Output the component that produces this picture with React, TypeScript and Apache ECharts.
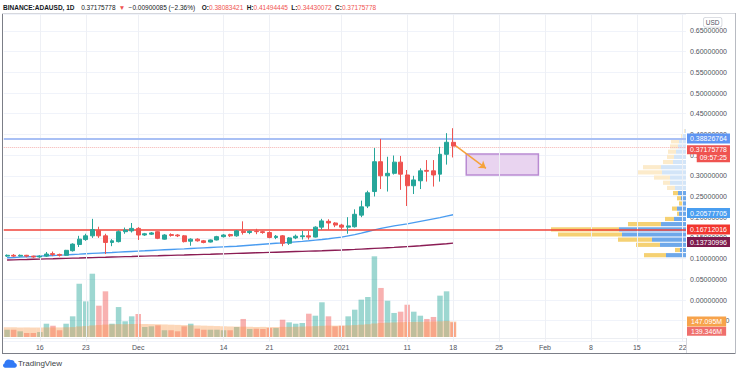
import React, { useEffect, useRef } from "react";
import * as echarts from "echarts";

// ---------- DATA ----------
const startDate = "2020-11-11";
const categoryCount = 104; // Nov 11 2020 .. Feb 22 2021

// [open, close, low, high]
const ohlc: number[][] = [
  [0.106, 0.108, 0.104, 0.110],
  [0.108, 0.106, 0.104, 0.111],
  [0.106, 0.108, 0.105, 0.110],
  [0.108, 0.106, 0.103, 0.109],
  [0.106, 0.104, 0.102, 0.107],
  [0.104, 0.106, 0.102, 0.108],
  [0.106, 0.111, 0.104, 0.116],
  [0.112, 0.110, 0.106, 0.117],
  [0.110, 0.108, 0.105, 0.112],
  [0.108, 0.120, 0.107, 0.121],
  [0.119, 0.135, 0.117, 0.137],
  [0.134, 0.147, 0.128, 0.155],
  [0.146, 0.155, 0.143, 0.160],
  [0.155, 0.170, 0.150, 0.196],
  [0.168, 0.155, 0.150, 0.177],
  [0.155, 0.139, 0.111, 0.160],
  [0.139, 0.143, 0.130, 0.147],
  [0.141, 0.165, 0.139, 0.168],
  [0.165, 0.169, 0.160, 0.175],
  [0.167, 0.173, 0.163, 0.186],
  [0.173, 0.157, 0.145, 0.176],
  [0.157, 0.160, 0.155, 0.162],
  [0.159, 0.162, 0.157, 0.164],
  [0.165, 0.149, 0.147, 0.166],
  [0.147, 0.157, 0.146, 0.159],
  [0.158, 0.156, 0.153, 0.161],
  [0.157, 0.155, 0.152, 0.159],
  [0.155, 0.141, 0.139, 0.157],
  [0.142, 0.147, 0.131, 0.149],
  [0.147, 0.143, 0.141, 0.149],
  [0.143, 0.139, 0.137, 0.145],
  [0.140, 0.145, 0.139, 0.146],
  [0.145, 0.153, 0.144, 0.155],
  [0.153, 0.157, 0.151, 0.159],
  [0.158, 0.155, 0.152, 0.160],
  [0.155, 0.167, 0.153, 0.169],
  [0.166, 0.163, 0.158, 0.190],
  [0.163, 0.166, 0.159, 0.168],
  [0.166, 0.165, 0.159, 0.172],
  [0.165, 0.163, 0.160, 0.167],
  [0.163, 0.151, 0.149, 0.166],
  [0.151, 0.154, 0.147, 0.157],
  [0.155, 0.137, 0.130, 0.157],
  [0.137, 0.150, 0.133, 0.152],
  [0.150, 0.154, 0.147, 0.158],
  [0.153, 0.155, 0.146, 0.167],
  [0.155, 0.152, 0.146, 0.167],
  [0.152, 0.176, 0.151, 0.178],
  [0.176, 0.191, 0.170, 0.196],
  [0.190, 0.186, 0.170, 0.195],
  [0.186, 0.181, 0.176, 0.188],
  [0.181, 0.176, 0.170, 0.184],
  [0.176, 0.179, 0.160, 0.200],
  [0.177, 0.207, 0.175, 0.219],
  [0.205, 0.225, 0.200, 0.240],
  [0.227, 0.259, 0.222, 0.264],
  [0.262, 0.334, 0.250, 0.367],
  [0.334, 0.300, 0.268, 0.389],
  [0.300, 0.306, 0.262, 0.346],
  [0.306, 0.333, 0.303, 0.349],
  [0.333, 0.304, 0.266, 0.348],
  [0.302, 0.276, 0.227, 0.314],
  [0.276, 0.290, 0.256, 0.300],
  [0.288, 0.312, 0.268, 0.318],
  [0.313, 0.311, 0.286, 0.338],
  [0.312, 0.302, 0.274, 0.338],
  [0.304, 0.352, 0.286, 0.370],
  [0.352, 0.381, 0.327, 0.403],
  [0.38083421, 0.37175778, 0.34430072, 0.41494445],
];

// volume in millions
const volumes: number[] = [
  69, 69, 54, 38, 38, 47, 126, 107, 64, 126,
  196, 505, 338, 600, 297, 433, 126, 284, 149, 196,
  218, 95, 101, 111, 64, 64, 54, 101, 126, 79,
  69, 69, 69, 64, 64, 95, 171, 76, 79, 76,
  85, 85, 164, 139, 126, 133, 221, 202, 329, 196,
  101, 107, 196, 259, 354, 379, 765, 465, 344, 228,
  240, 306, 240, 202, 171, 190, 392, 433, 139.346,
];

const volumeMA: number[] = [
  92, 92, 91, 91, 90, 90, 91, 91, 91, 92,
  94, 100, 104, 110, 113, 118, 119, 122, 122, 123,
  124, 123, 122, 121, 119, 117, 115, 113, 111, 110,
  108, 106, 104, 102, 100, 99, 98, 97, 96, 96,
  95, 95, 96, 96, 97, 99, 101, 103, 106, 108,
  108, 108, 110, 113, 117, 121, 128, 133, 136, 138,
  140, 142, 143, 144, 145, 146, 149, 152, 147.095,
];

const maBlue: number[] = [
  0.1020, 0.1027, 0.1035, 0.1043, 0.1051, 0.1060, 0.1068, 0.1076, 0.1083, 0.1091,
  0.1100, 0.1108, 0.1117, 0.1125, 0.1133, 0.1141, 0.1148, 0.1156, 0.1164, 0.1172,
  0.1180, 0.1188, 0.1197, 0.1205, 0.1213, 0.1221, 0.1229, 0.1236, 0.1244, 0.1252,
  0.1260, 0.1268, 0.1276, 0.1284, 0.1292, 0.1300, 0.1312, 0.1324, 0.1336, 0.1348,
  0.1360, 0.1370, 0.1380, 0.1392, 0.1404, 0.1416, 0.1430, 0.1446, 0.1462, 0.1480,
  0.1500, 0.1520, 0.1550, 0.1580, 0.1615, 0.1655, 0.1695, 0.1730, 0.1760, 0.1790,
  0.1815, 0.1840, 0.1870, 0.1900, 0.1930, 0.1960, 0.1990, 0.2025, 0.20577705,
];

const maMaroon: number[] = [
  0.0966, 0.0970, 0.0975, 0.0979, 0.0984, 0.0988, 0.0993, 0.0997, 0.1002, 0.1006,
  0.1011, 0.1015, 0.1020, 0.1024, 0.1029, 0.1033, 0.1038, 0.1042, 0.1047, 0.1051,
  0.1056, 0.1060, 0.1065, 0.1069, 0.1074, 0.1078, 0.1083, 0.1087, 0.1092, 0.1096,
  0.1101, 0.1105, 0.1110, 0.1115, 0.1120, 0.1125, 0.1130, 0.1135, 0.1140, 0.1145,
  0.1150, 0.1155, 0.1160, 0.1165, 0.1170, 0.1175, 0.1180, 0.1185, 0.1190, 0.1196,
  0.1202, 0.1208, 0.1215, 0.1222, 0.1230, 0.1238, 0.1246, 0.1254, 0.1262, 0.1270,
  0.1280, 0.1290, 0.1300, 0.1310, 0.1322, 0.1334, 0.1346, 0.1358, 0.13730996,
];

// visible range volume profile: rows from bottom, up / down volume (millions)
const profileBottom = 0.102;
const profileStep = 0.0125;
const profileValueAreaRows = 13;
const profileUp: number[] = [
  1000, 300, 1300, 1700, 3200, 3350, 1250, 600, 350, 450, 200, 250, 400,
  550, 800, 800, 1200, 1250, 650, 600, 500, 400, 350, 150, 50,
];
const profileDown: number[] = [
  1100, 250, 1200, 1700, 3200, 3400, 1650, 450, 100, 250, 150, 200, 250,
  400, 350, 800, 1250, 900, 500, 350, 400, 400, 400, 100, 50,
];

const timeLabelDates = [
  "2020-11-16", "2020-11-23", "2020-12-01", "2020-12-14", "2020-12-21", "2021-01-01",
  "2021-01-11", "2021-01-18", "2021-01-25", "2021-02-01", "2021-02-08", "2021-02-15", "2021-02-22",
];
const timeLabelTexts = ["16", "23", "Dec", "14", "21", "2021", "11", "18", "25", "Feb", "8", "15", "22"];

const levelResistance = 0.38826764;
const levelLast = 0.37175778;
const levelSupport = 0.16712016;
const countdown = "09:57:25";
const volumeLast = 139.346;
const volumeMALast = 147.095;

const targetBox = { from: "2021-01-20", to: "2021-01-31", low: 0.302, high: 0.3527 };
const arrowFrom = { date: "2021-01-18", price: 0.377 };
const arrowTo = { date: "2021-01-23", price: 0.318 };

// ---------- HELPERS ----------
function buildDates(): string[] {
  const out: string[] = [];
  const t0 = Date.UTC(2020, 10, 11);
  for (let i = 0; i < categoryCount; i++) {
    const d = new Date(t0 + i * 86400000);
    out.push(d.toISOString().slice(0, 10));
  }
  return out;
}

const FONT = "'Liberation Sans', Arial, sans-serif";
const GREEN = "#26a69a";
const RED = "#ef5350";

echarts.graphic.registerShape(
  "tvlogo",
  echarts.graphic.extendPath(
    "M6 0C3.4 0 1.6 1.9 1.5 4.1C0.6 4.5 0 5.3 0 6.3C0 7.6 1 8.6 2.3 8.6L12.2 8.6C13.6 8.6 14.6 7.5 14.6 6.1C14.6 4.8 13.6 3.8 12.4 3.7C12.1 1.7 10.4 0.4 8.5 0.7C7.8 0.3 6.9 0 6 0Z",
    {}
  )
);

export default function App() {
  const ref = useRef<HTMLDivElement>(null);

  useEffect(() => {
    if (!ref.current) return;
    const chart = echarts.init(ref.current, undefined, { renderer: "svg" });
    const dates = buildDates();
    if (dates[0] !== startDate) console.warn("date mismatch");

    const labelIdx = new Map<number, string>();
    timeLabelDates.forEach((d, k) => labelIdx.set(dates.indexOf(d), timeLabelTexts[k]));

    const tag = (bg: string, text: string, extra: any = {}) => ({
      show: true,
      position: "end",
      distance: 1,
      formatter: text,
      color: "#fff",
      backgroundColor: bg,
      padding: [1, 3, 1, 3],
      fontSize: 7,
      lineHeight: 8,
      fontFamily: FONT,
      ...extra,
    });

    const hiddenLine = { color: "rgba(0,0,0,0)", width: 1, type: "solid" };

    const option: any = {
      animation: false,
      backgroundColor: "#ffffff",
      textStyle: { fontFamily: FONT },
      grid: { left: 3.78, right: 50, top: 14.34, bottom: 32.6 },
      xAxis: [
        {
          type: "category",
          data: dates,
          boundaryGap: true,
          axisLine: { show: false },
          axisTick: { show: false },
          splitLine: { show: false },
          axisLabel: {
            interval: (i: number) => labelIdx.has(i),
            formatter: (_v: string, i: number) => labelIdx.get(i) || "",
            fontSize: 7,
            color: "#50535e",
            margin: 3,
            fontFamily: FONT,
          },
        },
        { type: "value", inverse: true, min: 0, max: 34110, show: false },
        { type: "category", data: dates, show: false, boundaryGap: true },
      ],
      yAxis: [
        {
          type: "value",
          position: "right",
          min: -0.1,
          max: 0.69,
          interval: 0.05,
          axisLine: { show: false },
          axisTick: { show: false },
          splitLine: { show: true, lineStyle: { color: "#f0f3fa", width: 1 } },
          axisLabel: {
            fontSize: 7,
            color: "#50535e",
            margin: 4,
            fontFamily: FONT,
            showMaxLabel: false,
            formatter: (v: number) => (v < -0.06 || v > 0.66 ? "" : v.toFixed(8)),
          },
        },
        { type: "value", min: -41.7, max: 3058.9, show: false },
      ],
      series: [
        {
          type: "line",
          name: "grid",
          data: [],
          z: 1,
          silent: true,
          markLine: {
            silent: true,
            symbol: ["none", "none"],
            label: { show: false },
            lineStyle: { color: "#eef0f5", width: 1, type: "solid" },
            data: timeLabelDates.map((d) => ({ xAxis: d })),
          },
        },
        {
          type: "custom",
          name: "profile",
          xAxisIndex: 1,
          yAxisIndex: 0,
          silent: true,
          z: 2,
          data: profileUp.map((u, k) => [u, profileBottom + k * profileStep, profileDown[k], k]),
          encode: { x: 0, y: 1 },
          renderItem: (_p: any, api: any) => {
            const up = api.value(0);
            const lo = api.value(1);
            const down = api.value(2);
            const k = api.value(3);
            const hi = lo + profileStep;
            const a = api.coord([0, hi]);
            const b = api.coord([up, lo]);
            const c = api.coord([up + down, lo]);
            const inVA = k < profileValueAreaRows;
            const y = a[1] + 0.5;
            const h = b[1] - a[1] - 1;
            return {
              type: "group",
              children: [
                {
                  type: "rect",
                  shape: { x: b[0], y, width: a[0] - b[0], height: h },
                  style: { fill: inVA ? "#6ea8ea" : "#d3e5f8" },
                },
                {
                  type: "rect",
                  shape: { x: c[0], y, width: b[0] - c[0], height: h },
                  style: { fill: inVA ? "#f5d173" : "#fcebcb" },
                },
              ],
            };
          },
        },
        {
          type: "bar",
          name: "Volume",
          xAxisIndex: 0,
          yAxisIndex: 1,
          barWidth: "84%",
          z: 2,
          data: volumes.map((v, i) => ({
            value: v,
            itemStyle: {
              color: ohlc[i][1] >= ohlc[i][0] ? "rgba(38,166,154,0.45)" : "rgba(239,83,80,0.45)",
            },
          })),
          markLine: {
            silent: true,
            symbol: ["none", "none"],
            lineStyle: hiddenLine,
            data: [
              {
                yAxis: volumeLast,
                lineStyle: hiddenLine,
                label: tag("transparent", "", {
                  padding: [18, 0, 0, 0],
                  formatter: "{a|" + volumeLast.toFixed(3) + "M}",
                  rich: { a: { backgroundColor: "#ef6f6c", color: "#fff", padding: [1, 4, 1, 4], fontSize: 7, lineHeight: 8, fontFamily: FONT } },
                }),
              },
            ],
          },
        },
        {
          type: "bar",
          name: "Volume MA",
          xAxisIndex: 2,
          yAxisIndex: 1,
          barWidth: "100%",
          z: 3,
          itemStyle: { color: "rgba(247,150,70,0.38)" },
          data: volumeMA,
          markLine: {
            silent: true,
            symbol: ["none", "none"],
            lineStyle: hiddenLine,
            data: [
              {
                yAxis: volumeMALast,
                lineStyle: hiddenLine,
                label: tag("#f7a34b", volumeMALast.toFixed(3) + "M", { padding: [1, 4, 1, 4] }),
              },
            ],
          },
        },
        {
          type: "line",
          name: "MA blue",
          data: maBlue,
          showSymbol: false,
          z: 4,
          lineStyle: { color: "#4a9cf0", width: 1.4 },
          markLine: {
            silent: true,
            symbol: ["none", "none"],
            lineStyle: hiddenLine,
            data: [{ yAxis: maBlue[maBlue.length - 1], lineStyle: hiddenLine, label: tag("#4a9ef0", maBlue[maBlue.length - 1].toFixed(8)) }],
          },
        },
        {
          type: "line",
          name: "MA maroon",
          data: maMaroon,
          showSymbol: false,
          z: 4,
          lineStyle: { color: "#8b1d55", width: 1.4 },
          markLine: {
            silent: true,
            symbol: ["none", "none"],
            lineStyle: hiddenLine,
            data: [{ yAxis: maMaroon[maMaroon.length - 1], lineStyle: hiddenLine, label: tag("#7d1a4d", maMaroon[maMaroon.length - 1].toFixed(8)) }],
          },
        },
        {
          type: "candlestick",
          name: "ADAUSD",
          data: ohlc,
          barWidth: "68%",
          z: 5,
          itemStyle: {
            color: GREEN,
            color0: RED,
            borderColor: GREEN,
            borderColor0: RED,
            borderWidth: 1,
          },
          markArea: {
            silent: true,
            itemStyle: { color: "rgba(206,160,222,0.45)", borderColor: "#b98bd2", borderWidth: 1.5 },
            data: [[
              { xAxis: targetBox.from, yAxis: targetBox.high },
              { xAxis: targetBox.to, yAxis: targetBox.low },
            ]],
          },
          markLine: {
            silent: true,
            symbol: ["none", "none"],
            data: [
              {
                yAxis: levelResistance,
                lineStyle: { color: "#a9c0f5", width: 2, type: "solid" },
                label: tag("#5f95f2", levelResistance.toFixed(8)),
              },
              {
                yAxis: levelLast,
                lineStyle: { color: "#f6b4b2", width: 1, type: "dotted" },
                label: tag("transparent", "", {
                  padding: [14, 0, 0, 0],
                  formatter: "{a|" + levelLast.toFixed(8) + "}\n{b|" + countdown + "}",
                  rich: {
                    a: { backgroundColor: RED, color: "#fff", padding: [1, 3, 1, 3], fontSize: 7, lineHeight: 8, fontFamily: FONT },
                    b: { backgroundColor: RED, color: "#fff", padding: [1, 3, 1, 3], fontSize: 7, lineHeight: 8, align: "right", fontFamily: FONT },
                  },
                }),
              },
              {
                yAxis: levelSupport,
                lineStyle: { color: "#f0433a", width: 1.5, type: "solid" },
                label: tag("#f2362f", levelSupport.toFixed(8)),
              },
              [
                { coord: [arrowFrom.date, arrowFrom.price], symbol: "none" },
                { coord: [arrowTo.date, arrowTo.price], symbol: "arrow", symbolSize: 7 },
              ].map((p: any) => ({ ...p, lineStyle: { color: "#f6a23c", width: 1.5, type: "solid" }, label: { show: false } })),
            ],
          },
        },
      ],
      graphic: [
        {
          type: "text",
          left: 3,
          top: 1,
          z: 100,
          style: {
            text:
              "{b|BINANCE:ADAUSD, 1D}  {n|0.37175778} {r|▼} {n|−0.00900085 (−2.36%)}  {l|O:}{r|0.38083421} {l|H:}{r|0.41494445} {l|L:}{r|0.34430072} {l|C:}{r|0.37175778}",
            rich: {
              b: { fontSize: 6.5, fontWeight: "bold", fill: "#131722", fontFamily: FONT },
              n: { fontSize: 6.5, fill: "#131722", fontFamily: FONT },
              r: { fontSize: 6.5, fill: "#ef5350", fontFamily: FONT },
              l: { fontSize: 6.5, fill: "#131722", fontFamily: FONT, fontWeight: "bold" },
            },
          },
        },
        { type: "line", z: 100, shape: { x1: 2.5, y1: 13, x2: 2.5, y2: 353.5 }, style: { stroke: "#7b7e87", lineWidth: 1 } },
        { type: "line", z: 100, shape: { x1: 2, y1: 13.5, x2: 735, y2: 13.5 }, style: { stroke: "#d6d8de", lineWidth: 1 } },
        { type: "line", z: 100, shape: { x1: 2, y1: 353.5, x2: 735.5, y2: 353.5 }, style: { stroke: "#7b7e87", lineWidth: 1 } },
        { type: "line", z: 100, shape: { x1: 735.5, y1: 13, x2: 735.5, y2: 353.5 }, style: { stroke: "#b8bbc2", lineWidth: 1 } },
        { type: "line", z: 100, shape: { x1: 3, y1: 338.5, x2: 686, y2: 338.5 }, style: { stroke: "#eceef2", lineWidth: 1 } },
        { type: "line", z: 100, shape: { x1: 686.5, y1: 338, x2: 686.5, y2: 353 }, style: { stroke: "#d6d8de", lineWidth: 1 } },
        {
          type: "text",
          z: 100,
          left: 703,
          top: 17,
          style: {
            text: "USD",
            fontSize: 6.5,
            fill: "#50535e",
            fontFamily: FONT,
            backgroundColor: "#fff",
            borderColor: "#d0d3da",
            borderWidth: 0.8,
            borderRadius: 2,
            padding: [1, 2, 1, 2],
          },
        },
        {
          type: "tvlogo",
          z: 100,
          x: 3,
          y: 359.5,
          scaleX: 0.95,
          scaleY: 0.95,
          style: { fill: "#3179f5" },
        },
        {
          type: "text",
          z: 100,
          left: 18,
          top: 359,
          style: { text: "TradingView", fontSize: 8, fill: "#3c3f47", fontFamily: FONT },
        },
      ],
    };

    chart.setOption(option);
    return () => chart.dispose();
  }, []);

  return (
    <div
      ref={ref}
      style={{ position: "absolute", left: 0, top: 0, width: 736, height: 374, background: "#fff" }}
    />
  );
}
